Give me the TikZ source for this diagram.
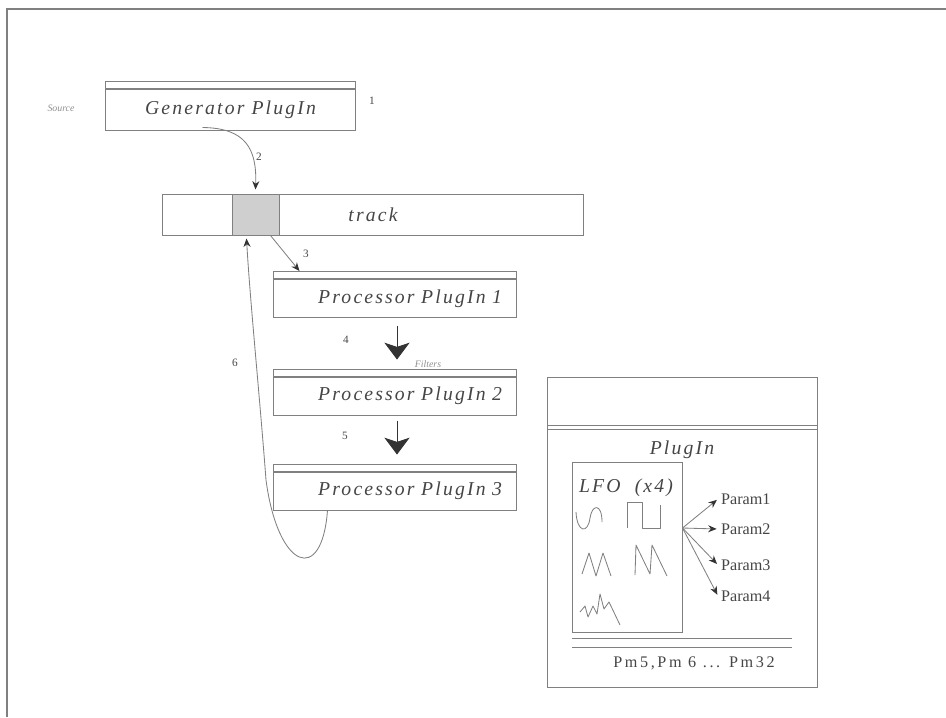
\documentclass[tikz,border=0pt]{standalone}
\usepackage{fontspec}
\setmainfont{Liberation Serif}
\usetikzlibrary{arrows.meta,calc}

\definecolor{linegray}{HTML}{808080}
\definecolor{textgray}{HTML}{454545}
\definecolor{cellgray}{HTML}{CFCFCF}

\tikzset{
  plugbox/.style={draw=linegray, line width=0.7pt, inner sep=0pt, text=textgray,
    font=\fontsize{14}{16}\selectfont\itshape\addfontfeature{LetterSpace=11}},
  band/.style={draw=linegray, line width=0.7pt, inner sep=0pt, minimum height=0.175cm},
  num/.style={font=\fontsize{8}{9}\selectfont, text=textgray},
  smalltag/.style={font=\fontsize{7}{8}\selectfont\itshape, text=textgray!60},
  param/.style={font=\fontsize{11.5}{13}\selectfont, text=textgray, inner sep=2pt},
  arr/.style={draw=linegray, line width=0.6pt, -{Stealth[length=6pt,width=5pt,black!80]}},
  bigarr/.style={draw=black!80, line width=0.7pt, -{Stealth[length=12pt,width=18pt,inset=3pt]}},
  wave/.style={draw=linegray, line width=0.6pt, line join=round},
}

\begin{document}
\begin{tikzpicture}[x=0.025cm, y=-0.025cm]
        \useasboundingbox (0,0) rectangle (946,717);
        \draw[linegray, line width=1.4pt] (7,717) -- (7,9) -- (946,9); % frame

        % Generator and track
        \node[plugbox, minimum width=6.225cm, minimum height=1.025cm] (gen) at (230.5,109.5) {Generator PlugIn};
        \node[band, minimum width=6.225cm, anchor=south] (gentop) at (gen.north) {};
        \node[smalltag] (source) at (61,108) {Source};
        \node[num] (n1) at (372,101) {1};

        \node[plugbox, minimum width=10.5cm, minimum height=1.025cm] (track) at (373,214.5) {track};
        \node[draw=linegray, fill=cellgray, line width=0.7pt, minimum width=1.175cm, minimum height=1.025cm, inner sep=0pt] (cell) at (255.5,214.5) {};

        % Processors
        \node[plugbox, minimum width=6.05cm, minimum height=0.95cm, text width=5.35cm, align=right] (proc1) at (395,298.5) {Processor PlugIn 1};
        \node[band, minimum width=6.05cm, anchor=south] (p1top) at (proc1.north) {};
        \node[plugbox, minimum width=6.05cm, minimum height=0.95cm, text width=5.35cm, align=right] (proc2) at (395,396) {Processor PlugIn 2};
        \node[band, minimum width=6.05cm, anchor=south] (p2top) at (proc2.north) {};
        \node[plugbox, minimum width=6.05cm, minimum height=0.95cm, text width=5.35cm, align=right] (proc3) at (395,491) {Processor PlugIn 3};
        \node[band, minimum width=6.05cm, anchor=south] (p3top) at (proc3.north) {};
        \node[smalltag] (filters) at (428,364) {Filters};

        % Connectors
        \draw[arr] ($(gen.south)+(-28,-3)$) .. controls (245,128) and (257,148) .. ($(cell.north)+(0,-4)$);
        \draw[arr] ($(cell.south east)+(-9,0)$) -- ($(p1top.north west)+(26,0)$);
        \draw[bigarr] ($(proc1.south)+(2,8)$) -- ($(p2top.north)+(2,-9)$);
        \draw[bigarr] ($(proc2.south)+(2,5)$) -- ($(p3top.north)+(2,-9)$);
        \draw[arr] ($(proc3.south west)+(54,0)$) .. controls (322,585) and (278,570) .. (266,480)
                   .. controls (260,400) and (250,300) .. ($(cell.south)+(-9,3)$);
        \node[num] (n2) at (259,157) {2};
        \node[num] (n3) at (306,254) {3};
        \node[num] (n4) at (346,340) {4};
        \node[num] (n5) at (345,436) {5};
        \node[num] (n6) at (235,363) {6};

        % PlugIn panel
        \node[draw=linegray, line width=0.7pt, minimum width=6.725cm, minimum height=7.725cm, inner sep=0pt] (panel) at (682.5,532.5) {};
        \draw[linegray, line width=0.7pt] ($(panel.north west)+(0,48)$) -- ($(panel.north east)+(0,48)$);
        \draw[linegray, line width=0.7pt] ($(panel.north west)+(0,52)$) -- ($(panel.north east)+(0,52)$);
        \node[plugbox, draw=none] (plugname) at (682,450) {PlugIn};
        \node[draw=linegray, line width=0.7pt, minimum width=2.75cm, minimum height=4.225cm, inner sep=0pt] (lfo) at (627,547.5) {};
        \node[plugbox, draw=none] (lfoname) at (626,488) {LFO~~(x4)};

        % waves
        \draw[wave] (576,512) .. controls (577,533) and (588,534) .. (590,518) .. controls (592,504) and (602,503) .. (602,522); % sine
        \draw[wave] (627,528) -- (627,502) -- (642,502) -- (642,528) -- (660,528) -- (660,505); % square
        \draw[wave] (582,574) -- (589,553) -- (596,576) -- (603,553) -- (611,576); % triangle
        \draw[wave] (635,575) -- (636,545) -- (650,574) -- (652,545) -- (667,576); % saw
        \draw[wave] (580,612) -- (585,606) -- (588,617) -- (593,606) -- (597,614) -- (600,594) -- (604,609) -- (609,602) -- (620,625); % noise

        \coordinate (fan) at ($(lfo.east)+(0,-19.5)$);
        \foreach \i/\y in {1/499,2/529,3/565,4/596}
        {
          \node[param, anchor=west] (par\i) at (718,\y) {Param\i};
          \draw[arr, shorten >=1pt] (fan) -- (par\i.west);
        }

        \draw[linegray, line width=0.7pt] ($(lfo.south west)+(0,6)$) -- ++(220,0);
        \draw[linegray, line width=0.7pt] ($(lfo.south west)+(0,15)$) -- ++(220,0);
        \node[param, font=\fontsize{11.5}{13}\selectfont\addfontfeature{LetterSpace=16}] (rest) at (694,663) {Pm5,Pm 6 ... Pm32};
\end{tikzpicture}
\end{document}
